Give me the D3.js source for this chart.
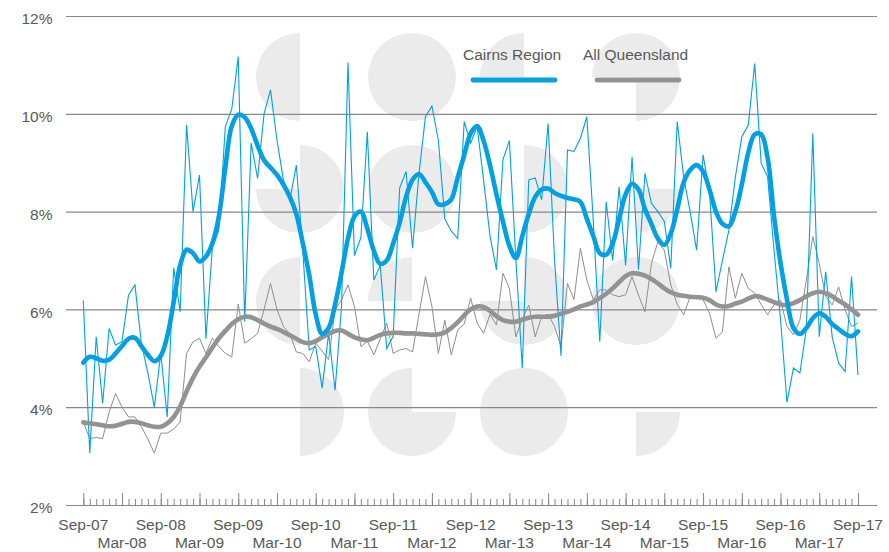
<!DOCTYPE html>
<html>
<head>
<meta charset="utf-8">
<script src="https://cdn.jsdelivr.net/npm/d3@7"></script>
<style>
  html, body { margin: 0; padding: 0; background: #fff; }
  svg { display: block; }
</style>
</head>
<body>
<svg id="chart" width="889" height="552"></svg>
<script>
// Monthly unemployment rate (%), Sep-07 .. Sep-17
const cairns = [
  6.18, 3.06, 5.44, 4.08, 5.61, 5.27, 5.34, 6.29, 6.50, 5.30, 4.70, 4.00,
  5.10, 3.80, 6.85, 5.95, 9.77, 8.00, 8.75, 5.40, 7.28, 7.62, 9.74, 10.10,
  11.17, 5.75, 9.40, 8.68, 10.00, 10.49, 9.46, 8.65, 8.24, 8.95, 7.20, 5.17,
  5.24, 4.39, 5.51, 4.35, 6.06, 11.05, 7.10, 7.47, 9.63, 6.60, 6.90, 5.20,
  5.45, 8.48, 8.82, 7.25, 8.78, 9.94, 10.16, 9.46, 7.85, 7.60, 7.45, 9.84,
  9.40, 9.74, 8.65, 7.50, 6.81, 9.06, 9.45, 7.04, 4.80, 8.65, 8.69, 8.24,
  9.80, 7.00, 5.05, 9.26, 9.23, 9.50, 9.94, 7.80, 5.34, 8.20, 7.00, 8.50,
  6.90, 9.12, 6.81, 8.78, 8.17, 8.00, 7.80, 6.84, 9.84, 8.70, 8.00, 7.21,
  9.16, 8.40, 6.36, 7.00, 7.62, 8.70, 9.53, 9.77, 11.03, 8.99, 8.71, 7.20,
  5.80, 4.10, 4.80, 4.70, 5.60, 9.60, 5.44, 6.77, 5.44, 4.90, 4.73, 6.67,
  4.66
];
const queensland = [
  3.70, 3.36, 3.38, 3.36, 3.90, 4.28, 4.00, 3.80, 3.80, 3.60, 3.35, 3.06,
  3.47, 3.47, 3.55, 3.70, 5.10, 5.34, 5.41, 5.10, 5.41, 5.24, 5.10, 5.03,
  6.11, 5.31, 5.40, 5.51, 6.00, 6.53, 6.00, 5.65, 5.50, 5.13, 5.10, 4.93,
  5.31, 5.15, 4.97, 5.99, 6.20, 6.50, 6.06, 5.24, 5.35, 5.07, 5.40, 5.72,
  5.10, 5.17, 5.20, 5.13, 5.90, 6.67, 6.06, 5.10, 5.78, 5.07, 5.58, 5.70,
  6.23, 5.72, 5.51, 5.90, 5.68, 6.74, 6.43, 5.44, 5.80, 6.09, 5.44, 5.85,
  5.90, 5.65, 5.24, 6.53, 6.20, 7.25, 6.60, 6.20, 6.40, 6.40, 6.30, 6.26,
  6.30, 6.67, 6.29, 5.95, 6.94, 7.38, 7.21, 6.50, 6.10, 5.89, 6.26, 6.26,
  6.20, 5.92, 5.41, 5.54, 6.87, 6.23, 6.74, 6.43, 6.33, 6.10, 5.89, 6.10,
  6.19, 5.65, 5.48, 5.78, 6.60, 7.49, 6.94, 6.26, 6.09, 6.46, 5.99, 5.65,
  5.72
];
// Trend series (%)
const cairnsTrend = [
  4.91, 5.03, 5.00, 4.95, 4.97, 5.10, 5.25, 5.40, 5.42, 5.25, 5.07, 4.94,
  5.05, 5.45, 6.15, 6.90, 7.22, 7.15, 6.98, 7.08, 7.35, 7.90, 8.90, 9.75,
  9.98, 9.93, 9.70, 9.35, 9.05, 8.90, 8.75, 8.55, 8.30, 7.95, 7.35, 6.70,
  5.90, 5.50, 5.62, 6.10, 6.75, 7.45, 7.90, 8.00, 7.65, 7.20, 6.93, 7.00,
  7.35, 7.77, 8.30, 8.65, 8.77, 8.60, 8.40, 8.15, 8.15, 8.25, 8.70, 9.15,
  9.60, 9.75, 9.45, 8.95, 8.35, 7.80, 7.30, 7.05, 7.50, 7.95, 8.30, 8.45,
  8.47, 8.38, 8.32, 8.28, 8.25, 8.20, 7.85, 7.50, 7.15, 7.12, 7.35, 7.85,
  8.35, 8.57, 8.45, 8.05, 7.75, 7.45, 7.32, 7.55, 8.05, 8.60, 8.85, 8.95,
  8.82, 8.45, 8.00, 7.75, 7.70, 8.00, 8.55, 9.20, 9.58, 9.58, 9.10, 7.90,
  6.95, 6.20, 5.62, 5.50, 5.62, 5.82, 5.92, 5.85, 5.70, 5.60, 5.50, 5.45,
  5.55
];
const queenslandTrend = [
  3.69, 3.67, 3.65, 3.63, 3.61, 3.62, 3.66, 3.70, 3.70, 3.67, 3.63, 3.60,
  3.60, 3.67, 3.80, 4.02, 4.32, 4.60, 4.83, 5.02, 5.22, 5.41, 5.56, 5.70,
  5.80, 5.85, 5.84, 5.78, 5.71, 5.65, 5.60, 5.54, 5.47, 5.40, 5.33, 5.31,
  5.35, 5.43, 5.50, 5.56, 5.57, 5.50, 5.43, 5.39, 5.37, 5.42, 5.48, 5.51,
  5.52, 5.52, 5.51, 5.51, 5.50, 5.49, 5.48, 5.49, 5.53, 5.62, 5.74, 5.88,
  6.00, 6.06, 6.05, 5.97, 5.86, 5.78, 5.75, 5.75, 5.79, 5.83, 5.85, 5.85,
  5.85, 5.87, 5.91, 5.95, 6.00, 6.06, 6.10, 6.15, 6.23, 6.32, 6.43, 6.56,
  6.68, 6.74, 6.73, 6.69, 6.62, 6.53, 6.43, 6.35, 6.30, 6.28, 6.26, 6.25,
  6.24, 6.19, 6.10, 6.06, 6.07, 6.12, 6.16, 6.22, 6.27, 6.25, 6.20, 6.15,
  6.10, 6.09, 6.13, 6.19, 6.27, 6.33, 6.36, 6.33, 6.27, 6.18, 6.10, 6.00,
  5.89
];

const yTicks = [2, 4, 6, 8, 10, 12];
const sepLabels = ["Sep-07", "Sep-08", "Sep-09", "Sep-10", "Sep-11", "Sep-12",
                   "Sep-13", "Sep-14", "Sep-15", "Sep-16", "Sep-17"];
const marLabels = ["Mar-08", "Mar-09", "Mar-10", "Mar-11", "Mar-12",
                   "Mar-13", "Mar-14", "Mar-15", "Mar-16", "Mar-17"];
const seriesNames = ["Cairns Region", "All Queensland"];

// Month categories along the axis
const fmt = d3.timeFormat("%b-%y");
const months = d3.timeMonth.range(new Date(2007, 8, 1), new Date(2017, 9, 1)).map(fmt);

const BLUE = "#00a0e2";
const GREY_THICK = "#939393";
const GREY_THIN = "#8e8e8e";
const GRID = "#878787";
const TEXT = "#595959";
const FONT = "'Liberation Sans', Arial, sans-serif";

const svg = d3.select("#chart");
const x = d3.scalePoint().domain(months).range([83.3, 858]);
const y = d3.scaleLinear().domain([2, 12]).range([505, 16]);
const plotLeft = 66, plotRight = 877;

// Background logo pattern: each tile is a set of filled circle quadrants
const R = 44;
const gx = [300, 412, 524, 636];
const gy = [77, 189, 301, 412];
const tiles = [
  ["TL,BL", "TL,TR,BL,BR", "TL", "TL,TR,BR"],
  ["TR,BL,BR", "TL,TR,BL,BR", "TR,BR", "BR"],
  ["TL,BL", "TL", "TR,BL,BR", "TL,TR,BL,BR"],
  ["TR,BR", "TL,BL,BR", "TL,TR,BL,BR", "BR"]
];
function quadrant(cx, cy, q) {
  switch (q) {
    case "TL": return `M${cx},${cy}L${cx - R},${cy}A${R},${R} 0 0 1 ${cx},${cy - R}Z`;
    case "TR": return `M${cx},${cy}L${cx},${cy - R}A${R},${R} 0 0 1 ${cx + R},${cy}Z`;
    case "BR": return `M${cx},${cy}L${cx + R},${cy}A${R},${R} 0 0 1 ${cx},${cy + R}Z`;
    case "BL": return `M${cx},${cy}L${cx},${cy + R}A${R},${R} 0 0 1 ${cx - R},${cy}Z`;
  }
}
const logo = svg.append("g").attr("fill", "#ebebeb");
tiles.forEach((row, r) => row.forEach((spec, c) => {
  const d = spec.split(",").map(q => quadrant(gx[c], gy[r], q)).join("");
  logo.append("path").attr("d", d);
}));

// Horizontal gridlines and percentage labels
const yAxis = svg.append("g")
  .attr("transform", `translate(${plotLeft},0)`)
  .call(d3.axisLeft(y).tickValues(yTicks).tickSize(-(plotRight - plotLeft))
    .tickPadding(13.5).tickFormat(d => d + "%"));
yAxis.select(".domain").remove();
yAxis.selectAll(".tick line").attr("stroke", GRID).attr("stroke-width", 1.2);
yAxis.selectAll(".tick text")
  .attr("fill", TEXT).attr("dy", "0.5em")
  .style("font-family", FONT).style("font-size", "15.5px");

// Monthly tick marks pointing up from the baseline, longer at Mar and Sep
const minor = svg.append("g").attr("transform", `translate(0,${y(2)})`)
  .call(d3.axisBottom(x).tickValues(months).tickSize(-6).tickFormat(""));
const major = svg.append("g").attr("transform", `translate(0,${y(2)})`)
  .call(d3.axisBottom(x).tickValues(months.filter(m => /^(Sep|Mar)/.test(m)))
    .tickSize(-12).tickFormat(""));
[minor, major].forEach(g => {
  g.select(".domain").remove();
  g.selectAll(".tick line").attr("stroke", GRID).attr("stroke-width", 1);
});

// Staggered category labels
const labels = svg.append("g")
  .attr("fill", TEXT).attr("text-anchor", "middle")
  .style("font-family", FONT).style("font-size", "15.5px");
labels.selectAll("text.sep").data(sepLabels).join("text")
  .attr("class", "sep").attr("x", d => x(d)).attr("y", 530).text(d => d);
labels.selectAll("text.mar").data(marLabels).join("text")
  .attr("class", "mar").attr("x", d => x(d)).attr("y", 548).text(d => d);

// Series lines
const raw = d3.line().x((d, i) => x(months[i])).y(d => y(d));
const smooth = d3.line().x((d, i) => x(months[i])).y(d => y(d))
  .curve(d3.curveCatmullRom.alpha(0.5));

svg.append("path").datum(queensland).attr("d", raw)
  .attr("fill", "none").attr("stroke", GREY_THIN).attr("stroke-width", 1);
svg.append("path").datum(cairns).attr("d", raw)
  .attr("fill", "none").attr("stroke", BLUE).attr("stroke-width", 1.1);
svg.append("path").datum(queenslandTrend).attr("d", smooth)
  .attr("fill", "none").attr("stroke", GREY_THICK).attr("stroke-width", 4.6)
  .attr("stroke-linejoin", "round").attr("stroke-linecap", "round");
svg.append("path").datum(cairnsTrend).attr("d", smooth)
  .attr("fill", "none").attr("stroke", BLUE).attr("stroke-width", 4.6)
  .attr("stroke-linejoin", "round").attr("stroke-linecap", "round");

// Legend
const legend = [
  { name: seriesNames[0], color: BLUE, tx: 463, x1: 473, x2: 555 },
  { name: seriesNames[1], color: GREY_THICK, tx: 583, x1: 597, x2: 679 }
];
const lg = svg.append("g");
legend.forEach(l => {
  lg.append("text").attr("x", l.tx).attr("y", 60).text(l.name)
    .attr("fill", TEXT).style("font-family", FONT).style("font-size", "15.5px");
  lg.append("line").attr("x1", l.x1).attr("x2", l.x2).attr("y1", 80).attr("y2", 80)
    .attr("stroke", l.color).attr("stroke-width", 4.8).attr("stroke-linecap", "round");
});
</script>
</body>
</html>
